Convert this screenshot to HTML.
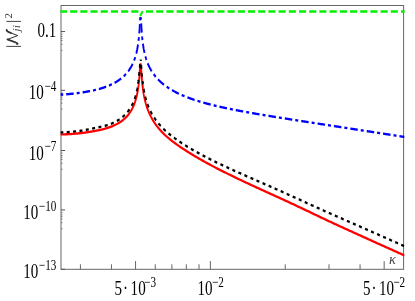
<!DOCTYPE html>
<html><head><meta charset="utf-8"><style>
html,body{margin:0;padding:0;background:#fff;}
svg{display:block;font-family:"Liberation Serif",serif;will-change:transform;}
</style></head><body>
<svg width="415" height="301" viewBox="0 0 415 301">
<defs><clipPath id="cr"><rect x="50" y="50.8" width="360" height="260"/></clipPath><clipPath id="ck"><rect x="50" y="47.7" width="360" height="260"/></clipPath><clipPath id="cb"><rect x="50" y="13.9" width="360" height="260"/></clipPath><clipPath id="c"><rect x="60.5" y="5.5" width="344.1" height="263.8"/></clipPath></defs>
<rect width="415" height="301" fill="#fff"/>
<rect x="61.0" y="5.5" width="342.6" height="263.8" fill="none" stroke="#666" stroke-width="1"/>
<line x1="80.41" y1="269.3" x2="80.41" y2="264.3" stroke="#666" stroke-width="1"/>
<line x1="111.47" y1="269.3" x2="111.47" y2="264.3" stroke="#666" stroke-width="1"/>
<line x1="135.56" y1="269.3" x2="135.56" y2="261.1" stroke="#666" stroke-width="1"/>
<line x1="155.25" y1="269.3" x2="155.25" y2="264.3" stroke="#666" stroke-width="1"/>
<line x1="171.89" y1="269.3" x2="171.89" y2="264.3" stroke="#666" stroke-width="1"/>
<line x1="186.31" y1="269.3" x2="186.31" y2="264.3" stroke="#666" stroke-width="1"/>
<line x1="199.02" y1="269.3" x2="199.02" y2="264.3" stroke="#666" stroke-width="1"/>
<line x1="210.40" y1="269.3" x2="210.40" y2="261.1" stroke="#666" stroke-width="1"/>
<line x1="285.24" y1="269.3" x2="285.24" y2="264.3" stroke="#666" stroke-width="1"/>
<line x1="329.01" y1="269.3" x2="329.01" y2="264.3" stroke="#666" stroke-width="1"/>
<line x1="360.07" y1="269.3" x2="360.07" y2="264.3" stroke="#666" stroke-width="1"/>
<line x1="384.16" y1="269.3" x2="384.16" y2="261.1" stroke="#666" stroke-width="1"/>
<line x1="61.0" y1="31.55" x2="65.1" y2="31.55" stroke="#555" stroke-width="1"/>
<line x1="61.0" y1="34.05" x2="62.5" y2="34.05" stroke="#666" stroke-width="0.8"/>
<line x1="61.0" y1="36.45" x2="62.5" y2="36.45" stroke="#666" stroke-width="0.8"/>
<line x1="61.0" y1="38.35" x2="62.5" y2="38.35" stroke="#666" stroke-width="0.8"/>
<line x1="61.0" y1="40.55" x2="62.5" y2="40.55" stroke="#666" stroke-width="0.8"/>
<line x1="61.0" y1="44.35" x2="62.5" y2="44.35" stroke="#666" stroke-width="0.8"/>
<line x1="61.0" y1="50.35" x2="62.5" y2="50.35" stroke="#666" stroke-width="0.8"/>
<line x1="61.0" y1="90.35" x2="65.1" y2="90.35" stroke="#555" stroke-width="1"/>
<line x1="61.0" y1="92.85" x2="62.5" y2="92.85" stroke="#666" stroke-width="0.8"/>
<line x1="61.0" y1="95.25" x2="62.5" y2="95.25" stroke="#666" stroke-width="0.8"/>
<line x1="61.0" y1="97.15" x2="62.5" y2="97.15" stroke="#666" stroke-width="0.8"/>
<line x1="61.0" y1="99.35" x2="62.5" y2="99.35" stroke="#666" stroke-width="0.8"/>
<line x1="61.0" y1="103.15" x2="62.5" y2="103.15" stroke="#666" stroke-width="0.8"/>
<line x1="61.0" y1="109.15" x2="62.5" y2="109.15" stroke="#666" stroke-width="0.8"/>
<line x1="61.0" y1="150.50" x2="65.1" y2="150.50" stroke="#555" stroke-width="1"/>
<line x1="61.0" y1="153.00" x2="62.5" y2="153.00" stroke="#666" stroke-width="0.8"/>
<line x1="61.0" y1="155.40" x2="62.5" y2="155.40" stroke="#666" stroke-width="0.8"/>
<line x1="61.0" y1="157.30" x2="62.5" y2="157.30" stroke="#666" stroke-width="0.8"/>
<line x1="61.0" y1="159.50" x2="62.5" y2="159.50" stroke="#666" stroke-width="0.8"/>
<line x1="61.0" y1="163.30" x2="62.5" y2="163.30" stroke="#666" stroke-width="0.8"/>
<line x1="61.0" y1="169.30" x2="62.5" y2="169.30" stroke="#666" stroke-width="0.8"/>
<line x1="61.0" y1="209.90" x2="65.1" y2="209.90" stroke="#555" stroke-width="1"/>
<line x1="61.0" y1="212.40" x2="62.5" y2="212.40" stroke="#666" stroke-width="0.8"/>
<line x1="61.0" y1="214.80" x2="62.5" y2="214.80" stroke="#666" stroke-width="0.8"/>
<line x1="61.0" y1="216.70" x2="62.5" y2="216.70" stroke="#666" stroke-width="0.8"/>
<line x1="61.0" y1="218.90" x2="62.5" y2="218.90" stroke="#666" stroke-width="0.8"/>
<line x1="61.0" y1="222.70" x2="62.5" y2="222.70" stroke="#666" stroke-width="0.8"/>
<line x1="61.0" y1="228.70" x2="62.5" y2="228.70" stroke="#666" stroke-width="0.8"/>
<line x1="61.0" y1="269.30" x2="65.1" y2="269.30" stroke="#555" stroke-width="1"/>
<g clip-path="url(#c)"><g transform="scale(1,1.247)" fill="none" stroke-width="1.9">
<g clip-path="url(#cr)"><path d="M60.30 107.79 L60.79 107.79 L61.28 107.79 L61.78 107.79 L62.27 107.78 L62.76 107.77 L63.25 107.76 L63.75 107.75 L64.24 107.74 L64.73 107.73 L65.22 107.72 L65.72 107.70 L66.21 107.68 L66.70 107.67 L67.19 107.65 L67.69 107.63 L68.18 107.61 L68.67 107.58 L69.16 107.56 L69.66 107.53 L70.15 107.51 L70.64 107.48 L71.13 107.45 L71.63 107.43 L72.12 107.40 L72.61 107.37 L73.10 107.33 L73.60 107.30 L74.09 107.27 L74.58 107.23 L75.07 107.20 L75.56 107.17 L76.06 107.13 L76.55 107.09 L77.04 107.06 L77.53 107.02 L78.03 106.98 L78.52 106.94 L79.01 106.90 L79.50 106.86 L80.00 106.82 L80.49 106.78 L80.98 106.74 L81.47 106.69 L81.97 106.65 L82.46 106.60 L82.95 106.55 L83.44 106.50 L83.94 106.45 L84.43 106.40 L84.92 106.34 L85.41 106.29 L85.91 106.23 L86.40 106.17 L86.89 106.11 L87.38 106.05 L87.88 105.99 L88.37 105.93 L88.86 105.87 L89.35 105.80 L89.85 105.74 L90.34 105.67 L90.83 105.61 L91.32 105.54 L91.81 105.47 L92.31 105.40 L92.80 105.33 L93.29 105.26 L93.78 105.19 L94.28 105.11 L94.77 105.04 L95.26 104.96 L95.75 104.89 L96.25 104.81 L96.74 104.74 L97.23 104.66 L97.72 104.58 L98.22 104.50 L98.71 104.42 L99.20 104.34 L99.69 104.25 L100.19 104.16 L100.68 104.08 L101.17 103.98 L101.66 103.89 L102.16 103.79 L102.65 103.70 L103.14 103.60 L103.63 103.49 L104.13 103.39 L104.62 103.28 L105.11 103.17 L105.60 103.05 L106.09 102.94 L106.59 102.82 L107.08 102.69 L107.57 102.57 L108.06 102.44 L108.56 102.31 L109.05 102.17 L109.54 102.03 L110.03 101.89 L110.53 101.74 L111.02 101.59 L111.51 101.44 L112.00 101.28 L112.50 101.12 L112.99 100.95 L113.48 100.78 L113.97 100.60 L114.47 100.42 L114.96 100.23 L115.45 100.04 L115.94 99.84 L116.44 99.64 L116.93 99.43 L117.42 99.22 L117.91 98.99 L118.41 98.77 L118.90 98.53 L119.39 98.29 L119.88 98.03 L120.37 97.78 L120.87 97.51 L121.36 97.23 L121.85 96.94 L122.34 96.65 L122.84 96.34 L123.33 96.02 L123.82 95.69 L124.31 95.35 L124.81 94.99 L125.30 94.62 L125.79 94.24 L126.28 93.84 L126.78 93.42 L127.27 92.98 L127.76 92.53 L128.25 92.05 L128.75 91.55 L129.24 91.03 L129.73 90.47 L130.22 89.89 L130.72 89.28 L131.21 88.62 L131.70 87.93 L132.19 87.20 L132.69 86.41 L133.18 85.57 L133.67 84.67 L134.16 83.69 L134.66 82.63 L135.15 81.47 L135.64 80.20 L136.00 79.18 L136.02 79.11 L136.05 79.04 L136.07 78.98 L136.09 78.91 L136.11 78.84 L136.13 78.78 L136.14 78.77 L136.16 78.70 L136.18 78.63 L136.20 78.56 L136.23 78.49 L136.25 78.42 L136.27 78.35 L136.29 78.28 L136.32 78.21 L136.34 78.14 L136.36 78.07 L136.38 77.99 L136.41 77.92 L136.43 77.85 L136.45 77.77 L136.47 77.70 L136.50 77.63 L136.52 77.55 L136.54 77.48 L136.56 77.40 L136.59 77.32 L136.61 77.25 L136.62 77.19 L136.63 77.17 L136.65 77.09 L136.68 77.01 L136.70 76.93 L136.72 76.86 L136.74 76.78 L136.77 76.70 L136.79 76.62 L136.81 76.53 L136.83 76.45 L136.86 76.37 L136.88 76.29 L136.90 76.21 L136.92 76.12 L136.95 76.04 L136.97 75.95 L136.99 75.87 L137.02 75.78 L137.04 75.70 L137.06 75.61 L137.08 75.52 L137.11 75.44 L137.12 75.39 L137.13 75.35 L137.15 75.26 L137.17 75.17 L137.20 75.08 L137.22 74.99 L137.24 74.90 L137.26 74.80 L137.29 74.71 L137.31 74.62 L137.33 74.53 L137.35 74.43 L137.38 74.34 L137.40 74.24 L137.42 74.14 L137.44 74.05 L137.47 73.95 L137.49 73.85 L137.51 73.75 L137.53 73.65 L137.56 73.55 L137.58 73.45 L137.60 73.35 L137.61 73.31 L137.62 73.24 L137.65 73.14 L137.67 73.04 L137.69 72.93 L137.71 72.82 L137.74 72.72 L137.76 72.61 L137.78 72.50 L137.80 72.39 L137.83 72.28 L137.85 72.17 L137.87 72.06 L137.89 71.95 L137.92 71.83 L137.94 71.72 L137.96 71.60 L137.98 71.48 L138.01 71.37 L138.03 71.25 L138.05 71.13 L138.08 71.01 L138.10 70.89 L138.10 70.86 L138.12 70.76 L138.14 70.64 L138.17 70.52 L138.19 70.39 L138.21 70.26 L138.23 70.14 L138.26 70.01 L138.28 69.88 L138.30 69.74 L138.32 69.61 L138.35 69.48 L138.37 69.34 L138.39 69.21 L138.41 69.07 L138.44 68.93 L138.46 68.79 L138.48 68.65 L138.50 68.50 L138.53 68.36 L138.55 68.21 L138.57 68.07 L138.59 67.92 L138.59 67.92 L138.62 67.77 L138.64 67.62 L138.66 67.46 L138.68 67.31 L138.71 67.15 L138.73 66.99 L138.75 66.83 L138.77 66.67 L138.80 66.51 L138.82 66.34 L138.84 66.18 L138.86 66.01 L138.89 65.84 L138.91 65.67 L138.93 65.49 L138.95 65.32 L138.98 65.14 L139.00 64.96 L139.02 64.78 L139.05 64.59 L139.07 64.41 L139.09 64.25 L139.09 64.22 L139.11 64.03 L139.14 63.83 L139.16 63.64 L139.18 63.44 L139.20 63.24 L139.23 63.04 L139.25 62.84 L139.27 62.63 L139.29 62.42 L139.32 62.21 L139.34 61.99 L139.36 61.78 L139.38 61.56 L139.41 61.33 L139.43 61.11 L139.45 60.88 L139.47 60.65 L139.50 60.42 L139.52 60.18 L139.54 59.94 L139.56 59.70 L139.58 59.53 L139.59 59.46 L139.61 59.21 L139.63 58.96 L139.65 58.71 L139.68 58.45 L139.70 58.19 L139.72 57.93 L139.74 57.67 L139.77 57.40 L139.79 57.14 L139.81 56.87 L139.83 56.59 L139.86 56.32 L139.88 56.04 L139.90 55.77 L139.92 55.49 L139.95 55.21 L139.97 54.93 L139.99 54.65 L140.02 54.37 L140.04 54.09 L140.06 53.81 L140.07 53.67 L140.08 53.54 L140.11 53.27 L140.13 53.00 L140.15 52.73 L140.17 52.47 L140.20 52.22 L140.22 51.97 L140.24 51.74 L140.26 51.51 L140.29 51.29 L140.31 51.09 L140.33 50.89 L140.35 50.72 L140.38 50.56 L140.40 50.41 L140.42 50.28 L140.44 50.18 L140.47 50.09 L140.49 50.02 L140.51 49.98 L140.53 49.95 L140.56 49.95 L140.56 49.96 L140.58 49.98 L140.60 50.02 L140.62 50.08 L140.65 50.17 L140.67 50.28 L140.69 50.40 L140.71 50.55 L140.74 50.71 L140.76 50.89 L140.78 51.09 L140.80 51.29 L140.83 51.51 L140.85 51.75 L140.87 51.99 L140.89 52.24 L140.92 52.50 L140.94 52.76 L140.96 53.03 L140.98 53.31 L141.01 53.59 L141.03 53.87 L141.05 54.15 L141.06 54.20 L141.08 54.44 L141.10 54.73 L141.12 55.01 L141.14 55.30 L141.17 55.59 L141.19 55.88 L141.21 56.16 L141.23 56.45 L141.26 56.73 L141.28 57.01 L141.30 57.29 L141.32 57.57 L141.35 57.84 L141.37 58.12 L141.39 58.39 L141.41 58.65 L141.44 58.92 L141.46 59.18 L141.48 59.44 L141.50 59.70 L141.53 59.95 L141.55 60.20 L141.55 60.20 L141.57 60.45 L141.59 60.69 L141.62 60.94 L141.64 61.18 L141.66 61.41 L141.68 61.65 L141.71 61.88 L141.73 62.11 L141.75 62.33 L141.77 62.56 L141.80 62.78 L141.82 63.00 L141.84 63.21 L141.86 63.43 L141.89 63.64 L141.91 63.85 L141.93 64.06 L141.95 64.26 L141.98 64.46 L142.00 64.66 L142.02 64.86 L142.04 65.02 L142.05 65.05 L142.07 65.25 L142.09 65.44 L142.11 65.63 L142.14 65.81 L142.16 66.00 L142.18 66.18 L142.20 66.36 L142.23 66.54 L142.25 66.72 L142.27 66.90 L142.29 67.07 L142.32 67.24 L142.34 67.41 L142.36 67.58 L142.38 67.75 L142.41 67.91 L142.43 68.08 L142.45 68.24 L142.47 68.40 L142.50 68.56 L142.52 68.72 L142.53 68.82 L142.54 68.87 L142.56 69.03 L142.59 69.18 L142.61 69.33 L142.63 69.48 L142.65 69.63 L142.68 69.78 L142.70 69.92 L142.72 70.07 L142.74 70.21 L142.77 70.36 L142.79 70.50 L142.81 70.64 L142.83 70.78 L142.86 70.91 L142.88 71.05 L142.90 71.19 L142.92 71.32 L142.95 71.45 L142.97 71.59 L142.99 71.72 L143.02 71.85 L143.03 71.91 L143.04 71.98 L143.06 72.10 L143.08 72.23 L143.11 72.36 L143.13 72.48 L143.15 72.61 L143.17 72.73 L143.20 72.85 L143.22 72.97 L143.24 73.09 L143.26 73.21 L143.29 73.33 L143.31 73.45 L143.33 73.57 L143.35 73.68 L143.38 73.80 L143.40 73.91 L143.42 74.03 L143.44 74.14 L143.47 74.25 L143.49 74.36 L143.51 74.47 L143.52 74.51 L143.53 74.58 L143.56 74.69 L143.58 74.80 L143.60 74.91 L143.62 75.01 L143.65 75.12 L143.67 75.23 L143.69 75.33 L143.71 75.43 L143.74 75.54 L143.76 75.64 L143.78 75.74 L143.80 75.84 L143.83 75.95 L143.85 76.05 L143.87 76.14 L143.89 76.24 L143.92 76.34 L143.94 76.44 L143.96 76.54 L143.98 76.63 L144.01 76.73 L144.01 76.74 L144.03 76.83 L144.05 76.92 L144.08 77.01 L144.10 77.11 L144.12 77.20 L144.14 77.29 L144.17 77.39 L144.19 77.48 L144.21 77.57 L144.23 77.66 L144.26 77.75 L144.28 77.84 L144.30 77.93 L144.32 78.02 L144.35 78.11 L144.37 78.19 L144.39 78.28 L144.41 78.37 L144.44 78.45 L144.46 78.54 L144.48 78.63 L144.50 78.71 L144.50 78.71 L144.53 78.79 L144.55 78.88 L144.57 78.96 L144.59 79.05 L144.62 79.13 L144.64 79.21 L144.66 79.29 L144.68 79.37 L144.71 79.46 L144.73 79.54 L144.75 79.62 L144.77 79.70 L144.80 79.78 L144.82 79.85 L144.84 79.93 L144.86 80.01 L144.89 80.09 L144.91 80.17 L144.93 80.24 L144.95 80.32 L144.98 80.40 L145.00 80.46 L145.00 80.47 L145.49 82.04 L145.98 83.48 L146.47 84.81 L146.97 86.04 L147.46 87.18 L147.95 88.25 L148.44 89.26 L148.94 90.21 L149.43 91.11 L149.92 91.97 L150.41 92.79 L150.90 93.57 L151.40 94.32 L151.89 95.04 L152.38 95.73 L152.87 96.40 L153.37 97.04 L153.86 97.66 L154.35 98.27 L154.84 98.85 L155.34 99.42 L155.83 99.97 L156.32 100.51 L156.81 101.04 L157.31 101.55 L157.80 102.05 L158.29 102.53 L158.78 103.01 L159.28 103.48 L159.77 103.93 L160.26 104.38 L160.75 104.82 L161.25 105.25 L161.74 105.67 L162.23 106.08 L162.72 106.49 L163.22 106.89 L163.71 107.28 L164.20 107.66 L164.69 108.04 L165.18 108.41 L165.68 108.77 L166.17 109.13 L166.66 109.49 L167.15 109.84 L167.65 110.18 L168.14 110.52 L168.63 110.85 L169.12 111.18 L169.62 111.51 L170.11 111.83 L170.60 112.15 L171.09 112.46 L171.59 112.77 L172.08 113.08 L172.57 113.39 L173.06 113.69 L173.56 113.98 L174.05 114.28 L174.54 114.57 L175.03 114.86 L175.53 115.15 L176.02 115.43 L176.51 115.72 L177.00 116.00 L177.50 116.27 L177.99 116.55 L178.48 116.82 L178.97 117.10 L179.47 117.37 L179.96 117.63 L180.45 117.90 L180.94 118.17 L181.43 118.43 L181.93 118.69 L182.42 118.96 L182.91 119.22 L183.40 119.48 L183.90 119.73 L184.39 119.99 L184.88 120.25 L185.37 120.50 L185.87 120.76 L186.36 121.01 L186.85 121.26 L187.34 121.51 L187.84 121.76 L188.33 122.01 L188.82 122.26 L189.31 122.51 L189.81 122.75 L190.30 123.00 L190.79 123.24 L191.28 123.48 L191.78 123.72 L192.27 123.96 L192.76 124.20 L193.25 124.44 L193.75 124.68 L194.24 124.91 L194.73 125.15 L195.22 125.38 L195.71 125.62 L196.21 125.85 L196.70 126.08 L197.19 126.31 L197.68 126.54 L198.18 126.77 L198.67 127.00 L199.16 127.23 L199.65 127.46 L200.15 127.68 L200.64 127.91 L201.13 128.14 L201.62 128.36 L202.12 128.58 L202.61 128.81 L203.10 129.03 L203.59 129.25 L204.09 129.47 L204.58 129.69 L205.07 129.91 L205.56 130.13 L206.06 130.34 L206.55 130.56 L207.04 130.78 L207.53 130.99 L208.03 131.21 L208.52 131.42 L209.01 131.63 L209.50 131.85 L209.99 132.06 L210.49 132.27 L210.98 132.48 L211.47 132.69 L211.96 132.90 L212.46 133.11 L212.95 133.31 L213.44 133.52 L213.93 133.73 L214.43 133.93 L214.92 134.14 L215.41 134.34 L215.90 134.55 L216.40 134.75 L216.89 134.95 L217.38 135.16 L217.87 135.36 L218.37 135.56 L218.86 135.76 L219.35 135.96 L219.84 136.16 L220.34 136.37 L220.83 136.57 L221.32 136.77 L221.81 136.96 L222.31 137.16 L222.80 137.36 L223.29 137.56 L223.78 137.76 L224.28 137.96 L224.77 138.15 L225.26 138.35 L225.75 138.55 L226.24 138.74 L226.74 138.94 L227.23 139.14 L227.72 139.33 L228.21 139.53 L228.71 139.72 L229.20 139.92 L229.69 140.11 L230.18 140.31 L230.68 140.50 L231.17 140.69 L231.66 140.89 L232.15 141.08 L232.65 141.27 L233.14 141.46 L233.63 141.66 L234.12 141.85 L234.62 142.04 L235.11 142.23 L235.60 142.42 L236.09 142.61 L236.59 142.80 L237.08 142.99 L237.57 143.18 L238.06 143.37 L238.56 143.56 L239.05 143.75 L239.54 143.94 L240.03 144.13 L240.52 144.32 L241.02 144.50 L241.51 144.69 L242.00 144.88 L242.49 145.07 L242.99 145.25 L243.48 145.44 L243.97 145.63 L244.46 145.81 L244.96 146.00 L245.45 146.19 L245.94 146.37 L246.43 146.56 L246.93 146.74 L247.42 146.93 L247.91 147.11 L248.40 147.29 L248.90 147.48 L249.39 147.66 L249.88 147.85 L250.37 148.03 L250.87 148.21 L251.36 148.39 L251.85 148.58 L252.34 148.76 L252.84 148.94 L253.33 149.12 L253.82 149.31 L254.31 149.49 L254.81 149.67 L255.30 149.85 L255.79 150.03 L256.28 150.21 L256.77 150.39 L257.27 150.58 L257.76 150.76 L258.25 150.94 L258.74 151.12 L259.24 151.30 L259.73 151.48 L260.22 151.66 L260.71 151.84 L261.21 152.02 L261.70 152.20 L262.19 152.38 L262.68 152.56 L263.18 152.74 L263.67 152.92 L264.16 153.10 L264.65 153.28 L265.15 153.46 L265.64 153.64 L266.13 153.82 L266.62 154.00 L267.12 154.18 L267.61 154.36 L268.10 154.54 L268.59 154.72 L269.09 154.89 L269.58 155.07 L270.07 155.25 L270.56 155.43 L271.05 155.61 L271.55 155.79 L272.04 155.97 L272.53 156.15 L273.02 156.33 L273.52 156.51 L274.01 156.69 L274.50 156.87 L274.99 157.05 L275.49 157.23 L275.98 157.41 L276.47 157.59 L276.96 157.77 L277.46 157.95 L277.95 158.13 L278.44 158.31 L278.93 158.49 L279.43 158.67 L279.92 158.85 L280.41 159.03 L280.90 159.21 L281.40 159.39 L281.89 159.58 L282.38 159.76 L282.87 159.94 L283.37 160.12 L283.86 160.30 L284.35 160.48 L284.84 160.66 L285.33 160.84 L285.83 161.03 L286.32 161.21 L286.81 161.39 L287.30 161.57 L287.80 161.76 L288.29 161.94 L288.78 162.12 L289.27 162.31 L289.77 162.49 L290.26 162.67 L290.75 162.86 L291.24 163.04 L291.74 163.23 L292.23 163.41 L292.72 163.60 L293.21 163.78 L293.71 163.97 L294.20 164.15 L294.69 164.34 L295.18 164.52 L295.68 164.71 L296.17 164.90 L296.66 165.08 L297.15 165.27 L297.65 165.45 L298.14 165.64 L298.63 165.83 L299.12 166.01 L299.62 166.20 L300.11 166.39 L300.60 166.58 L301.09 166.76 L301.58 166.95 L302.08 167.14 L302.57 167.33 L303.06 167.51 L303.55 167.70 L304.05 167.89 L304.54 168.08 L305.03 168.26 L305.52 168.45 L306.02 168.64 L306.51 168.83 L307.00 169.02 L307.49 169.20 L307.99 169.39 L308.48 169.58 L308.97 169.77 L309.46 169.96 L309.96 170.15 L310.45 170.33 L310.94 170.52 L311.43 170.71 L311.93 170.90 L312.42 171.09 L312.91 171.28 L313.40 171.46 L313.90 171.65 L314.39 171.84 L314.88 172.03 L315.37 172.22 L315.86 172.41 L316.36 172.59 L316.85 172.78 L317.34 172.97 L317.83 173.16 L318.33 173.35 L318.82 173.53 L319.31 173.72 L319.80 173.91 L320.30 174.10 L320.79 174.28 L321.28 174.47 L321.77 174.66 L322.27 174.85 L322.76 175.03 L323.25 175.22 L323.74 175.41 L324.24 175.59 L324.73 175.78 L325.22 175.97 L325.71 176.15 L326.21 176.34 L326.70 176.52 L327.19 176.71 L327.68 176.90 L328.18 177.08 L328.67 177.27 L329.16 177.45 L329.65 177.64 L330.14 177.82 L330.64 178.00 L331.13 178.19 L331.62 178.37 L332.11 178.56 L332.61 178.74 L333.10 178.92 L333.59 179.11 L334.08 179.29 L334.58 179.47 L335.07 179.65 L335.56 179.84 L336.05 180.02 L336.55 180.20 L337.04 180.38 L337.53 180.56 L338.02 180.75 L338.52 180.93 L339.01 181.11 L339.50 181.29 L339.99 181.47 L340.49 181.65 L340.98 181.83 L341.47 182.01 L341.96 182.19 L342.46 182.38 L342.95 182.56 L343.44 182.74 L343.93 182.92 L344.43 183.10 L344.92 183.28 L345.41 183.46 L345.90 183.64 L346.39 183.82 L346.89 184.00 L347.38 184.17 L347.87 184.35 L348.36 184.53 L348.86 184.71 L349.35 184.89 L349.84 185.07 L350.33 185.25 L350.83 185.43 L351.32 185.61 L351.81 185.79 L352.30 185.97 L352.80 186.15 L353.29 186.33 L353.78 186.50 L354.27 186.68 L354.77 186.86 L355.26 187.04 L355.75 187.22 L356.24 187.40 L356.74 187.58 L357.23 187.76 L357.72 187.94 L358.21 188.12 L358.71 188.29 L359.20 188.47 L359.69 188.65 L360.18 188.83 L360.67 189.01 L361.17 189.19 L361.66 189.37 L362.15 189.55 L362.64 189.73 L363.14 189.91 L363.63 190.09 L364.12 190.27 L364.61 190.45 L365.11 190.62 L365.60 190.80 L366.09 190.98 L366.58 191.16 L367.08 191.34 L367.57 191.52 L368.06 191.70 L368.55 191.88 L369.05 192.06 L369.54 192.24 L370.03 192.42 L370.52 192.60 L371.02 192.78 L371.51 192.96 L372.00 193.14 L372.49 193.32 L372.99 193.50 L373.48 193.68 L373.97 193.86 L374.46 194.04 L374.95 194.22 L375.45 194.40 L375.94 194.58 L376.43 194.75 L376.92 194.93 L377.42 195.11 L377.91 195.29 L378.40 195.47 L378.89 195.64 L379.39 195.82 L379.88 196.00 L380.37 196.18 L380.86 196.35 L381.36 196.53 L381.85 196.71 L382.34 196.88 L382.83 197.06 L383.33 197.24 L383.82 197.42 L384.31 197.59 L384.80 197.77 L385.30 197.95 L385.79 198.12 L386.28 198.30 L386.77 198.48 L387.27 198.65 L387.76 198.83 L388.25 199.01 L388.74 199.18 L389.24 199.36 L389.73 199.53 L390.22 199.71 L390.71 199.89 L391.20 200.06 L391.70 200.24 L392.19 200.42 L392.68 200.60 L393.17 200.77 L393.67 200.95 L394.16 201.13 L394.65 201.30 L395.14 201.48 L395.64 201.66 L396.13 201.83 L396.62 202.01 L397.11 202.19 L397.61 202.37 L398.10 202.55 L398.59 202.72 L399.08 202.90 L399.58 203.08 L400.07 203.26 L400.56 203.44 L401.05 203.61 L401.55 203.79 L402.04 203.97 L402.53 204.15 L403.02 204.33 L403.52 204.51 L404.01 204.69 L404.50 204.87" stroke="#ff0000"/></g>
<g clip-path="url(#cb)"><path d="M60.30 75.82 L60.79 75.82 L61.28 75.81 L61.78 75.80 L62.27 75.78 L62.76 75.77 L63.25 75.75 L63.75 75.73 L64.24 75.71 L64.73 75.69 L65.22 75.66 L65.72 75.64 L66.21 75.61 L66.70 75.58 L67.19 75.55 L67.69 75.52 L68.18 75.48 L68.67 75.45 L69.16 75.41 L69.66 75.38 L70.15 75.34 L70.64 75.30 L71.13 75.26 L71.63 75.22 L72.12 75.18 L72.61 75.14 L73.10 75.09 L73.60 75.05 L74.09 75.01 L74.58 74.96 L75.07 74.92 L75.56 74.87 L76.06 74.83 L76.55 74.78 L77.04 74.73 L77.53 74.68 L78.03 74.62 L78.52 74.57 L79.01 74.51 L79.50 74.46 L80.00 74.40 L80.49 74.34 L80.98 74.28 L81.47 74.22 L81.97 74.15 L82.46 74.09 L82.95 74.02 L83.44 73.96 L83.94 73.89 L84.43 73.83 L84.92 73.76 L85.41 73.69 L85.91 73.62 L86.40 73.55 L86.89 73.48 L87.38 73.41 L87.88 73.34 L88.37 73.26 L88.86 73.19 L89.35 73.12 L89.85 73.05 L90.34 72.97 L90.83 72.90 L91.32 72.82 L91.81 72.74 L92.31 72.66 L92.80 72.58 L93.29 72.50 L93.78 72.41 L94.28 72.32 L94.77 72.23 L95.26 72.14 L95.75 72.05 L96.25 71.95 L96.74 71.85 L97.23 71.75 L97.72 71.65 L98.22 71.55 L98.71 71.44 L99.20 71.33 L99.69 71.22 L100.19 71.11 L100.68 70.99 L101.17 70.88 L101.66 70.75 L102.16 70.63 L102.65 70.51 L103.14 70.38 L103.63 70.25 L104.13 70.11 L104.62 69.97 L105.11 69.83 L105.60 69.69 L106.09 69.54 L106.59 69.40 L107.08 69.24 L107.57 69.09 L108.06 68.93 L108.56 68.76 L109.05 68.60 L109.54 68.43 L110.03 68.25 L110.53 68.07 L111.02 67.89 L111.51 67.70 L112.00 67.51 L112.50 67.32 L112.99 67.12 L113.48 66.91 L113.97 66.70 L114.47 66.49 L114.96 66.26 L115.45 66.04 L115.94 65.81 L116.44 65.57 L116.93 65.32 L117.42 65.07 L117.91 64.82 L118.41 64.55 L118.90 64.28 L119.39 64.00 L119.88 63.71 L120.37 63.42 L120.87 63.11 L121.36 62.80 L121.85 62.48 L122.34 62.15 L122.84 61.80 L123.33 61.45 L123.82 61.08 L124.31 60.70 L124.81 60.31 L125.30 59.90 L125.79 59.48 L126.28 59.04 L126.78 58.59 L127.27 58.12 L127.76 57.63 L128.25 57.11 L128.75 56.58 L129.24 56.02 L129.73 55.43 L130.22 54.81 L130.72 54.16 L131.21 53.48 L131.70 52.76 L132.19 51.99 L132.69 51.17 L133.18 50.30 L133.67 49.37 L134.16 48.36 L134.66 47.28 L135.15 46.09 L135.64 44.79 L136.00 43.75 L136.02 43.69 L136.05 43.62 L136.07 43.55 L136.09 43.48 L136.11 43.41 L136.13 43.35 L136.14 43.34 L136.16 43.27 L136.18 43.20 L136.20 43.13 L136.23 43.06 L136.25 42.99 L136.27 42.92 L136.29 42.85 L136.32 42.77 L136.34 42.70 L136.36 42.63 L136.38 42.55 L136.41 42.48 L136.43 42.41 L136.45 42.33 L136.47 42.26 L136.50 42.18 L136.52 42.10 L136.54 42.03 L136.56 41.95 L136.59 41.87 L136.61 41.80 L136.62 41.74 L136.63 41.72 L136.65 41.64 L136.68 41.56 L136.70 41.48 L136.72 41.40 L136.74 41.32 L136.77 41.24 L136.79 41.16 L136.81 41.07 L136.83 40.99 L136.86 40.91 L136.88 40.83 L136.90 40.74 L136.92 40.66 L136.95 40.57 L136.97 40.49 L136.99 40.40 L137.02 40.31 L137.04 40.23 L137.06 40.14 L137.08 40.05 L137.11 39.96 L137.12 39.91 L137.13 39.87 L137.15 39.78 L137.17 39.69 L137.20 39.60 L137.22 39.51 L137.24 39.41 L137.26 39.32 L137.29 39.23 L137.31 39.13 L137.33 39.04 L137.35 38.94 L137.38 38.85 L137.40 38.75 L137.42 38.65 L137.44 38.55 L137.47 38.45 L137.49 38.35 L137.51 38.25 L137.53 38.15 L137.56 38.05 L137.58 37.95 L137.60 37.84 L137.61 37.81 L137.62 37.74 L137.65 37.63 L137.67 37.53 L137.69 37.42 L137.71 37.31 L137.74 37.20 L137.76 37.10 L137.78 36.98 L137.80 36.87 L137.83 36.76 L137.85 36.65 L137.87 36.54 L137.89 36.42 L137.92 36.30 L137.94 36.19 L137.96 36.07 L137.98 35.95 L138.01 35.83 L138.03 35.71 L138.05 35.59 L138.08 35.47 L138.10 35.34 L138.10 35.32 L138.12 35.22 L138.14 35.09 L138.17 34.96 L138.19 34.84 L138.21 34.71 L138.23 34.58 L138.26 34.44 L138.28 34.31 L138.30 34.18 L138.32 34.04 L138.35 33.90 L138.37 33.77 L138.39 33.63 L138.41 33.48 L138.44 33.34 L138.46 33.20 L138.48 33.05 L138.50 32.90 L138.53 32.76 L138.55 32.61 L138.57 32.45 L138.59 32.30 L138.59 32.30 L138.62 32.15 L138.64 31.99 L138.66 31.83 L138.68 31.67 L138.71 31.51 L138.73 31.34 L138.75 31.18 L138.77 31.01 L138.80 30.84 L138.82 30.67 L138.84 30.50 L138.86 30.32 L138.89 30.14 L138.91 29.96 L138.93 29.78 L138.95 29.60 L138.98 29.41 L139.00 29.22 L139.02 29.03 L139.05 28.83 L139.07 28.63 L139.09 28.47 L139.09 28.44 L139.11 28.23 L139.14 28.03 L139.16 27.82 L139.18 27.61 L139.20 27.39 L139.23 27.18 L139.25 26.96 L139.27 26.73 L139.29 26.51 L139.32 26.28 L139.34 26.04 L139.36 25.80 L139.38 25.56 L139.41 25.32 L139.43 25.07 L139.45 24.82 L139.47 24.56 L139.50 24.30 L139.52 24.03 L139.54 23.76 L139.56 23.49 L139.58 23.30 L139.59 23.21 L139.61 22.92 L139.63 22.64 L139.65 22.34 L139.68 22.04 L139.70 21.74 L139.72 21.43 L139.74 21.11 L139.77 20.79 L139.79 20.46 L139.81 20.13 L139.83 19.79 L139.86 19.45 L139.88 19.10 L139.90 18.74 L139.92 18.38 L139.95 18.01 L139.97 17.63 L139.99 17.25 L140.02 16.86 L140.04 16.47 L140.06 16.07 L140.07 15.87 L140.08 15.67 L140.11 15.27 L140.13 14.86 L140.15 14.45 L140.17 14.03 L140.20 13.62 L140.22 13.21 L140.24 12.80 L140.26 12.40 L140.29 12.01 L140.31 11.63 L140.33 11.26 L140.35 10.92 L140.38 10.59 L140.40 10.29 L140.42 10.02 L140.44 9.78 L140.47 9.59 L140.49 9.43 L140.51 9.32 L140.53 9.26" stroke="#0000ff" stroke-dasharray="7.5 3 3 3" stroke-dashoffset="10.60"/><path d="M140.56 9.24 L140.56 9.25 L140.58 9.27 L140.60 9.36 L140.62 9.48 L140.65 9.66 L140.67 9.87 L140.69 10.12 L140.71 10.40 L140.74 10.71 L140.76 11.05 L140.78 11.41 L140.80 11.78 L140.83 12.17 L140.85 12.57 L140.87 12.97 L140.89 13.38 L140.92 13.80 L140.94 14.21 L140.96 14.63 L140.98 15.04 L141.01 15.45 L141.03 15.86 L141.05 16.26 L141.06 16.33 L141.08 16.66 L141.10 17.05 L141.12 17.44 L141.14 17.82 L141.17 18.20 L141.19 18.57 L141.21 18.93 L141.23 19.29 L141.26 19.64 L141.28 19.99 L141.30 20.33 L141.32 20.66 L141.35 20.99 L141.37 21.31 L141.39 21.63 L141.41 21.94 L141.44 22.24 L141.46 22.54 L141.48 22.84 L141.50 23.13 L141.53 23.41 L141.55 23.69 L141.55 23.69 L141.57 23.97 L141.59 24.24 L141.62 24.51 L141.64 24.77 L141.66 25.03 L141.68 25.28 L141.71 25.53 L141.73 25.78 L141.75 26.02 L141.77 26.26 L141.80 26.49 L141.82 26.73 L141.84 26.95 L141.86 27.18 L141.89 27.40 L141.91 27.62 L141.93 27.83 L141.95 28.05 L141.98 28.26 L142.00 28.46 L142.02 28.67 L142.04 28.84 L142.05 28.87 L142.07 29.07 L142.09 29.26 L142.11 29.46 L142.14 29.65 L142.16 29.84 L142.18 30.02 L142.20 30.21 L142.23 30.39 L142.25 30.57 L142.27 30.75 L142.29 30.92 L142.32 31.10 L142.34 31.27 L142.36 31.44 L142.38 31.61 L142.41 31.77 L142.43 31.94 L142.45 32.10 L142.47 32.26 L142.50 32.42 L142.52 32.57 L142.53 32.68 L142.54 32.73 L142.56 32.88 L142.59 33.04 L142.61 33.19 L142.63 33.34 L142.65 33.48 L142.68 33.63 L142.70 33.77 L142.72 33.92 L142.74 34.06 L142.77 34.20 L142.79 34.34 L142.81 34.48 L142.83 34.61 L142.86 34.75 L142.88 34.88 L142.90 35.02 L142.92 35.15 L142.95 35.28 L142.97 35.41 L142.99 35.54 L143.02 35.66 L143.03 35.73 L143.04 35.79 L143.06 35.91 L143.08 36.04 L143.11 36.16 L143.13 36.28 L143.15 36.40 L143.17 36.52 L143.20 36.64 L143.22 36.76 L143.24 36.88 L143.26 36.99 L143.29 37.11 L143.31 37.22 L143.33 37.34 L143.35 37.45 L143.38 37.56 L143.40 37.67 L143.42 37.78 L143.44 37.89 L143.47 38.00 L143.49 38.11 L143.51 38.21 L143.52 38.25 L143.53 38.32 L143.56 38.42 L143.58 38.53 L143.60 38.63 L143.62 38.74 L143.65 38.84 L143.67 38.94 L143.69 39.04 L143.71 39.14 L143.74 39.24 L143.76 39.34 L143.78 39.44 L143.80 39.53 L143.83 39.63 L143.85 39.73 L143.87 39.82 L143.89 39.92 L143.92 40.01 L143.94 40.11 L143.96 40.20 L143.98 40.29 L144.01 40.38 L144.01 40.40 L144.03 40.47 L144.05 40.56 L144.08 40.65 L144.10 40.74 L144.12 40.83 L144.14 40.92 L144.17 41.01 L144.19 41.10 L144.21 41.18 L144.23 41.27 L144.26 41.36 L144.28 41.44 L144.30 41.53 L144.32 41.61 L144.35 41.70 L144.37 41.78 L144.39 41.86 L144.41 41.94 L144.44 42.03 L144.46 42.11 L144.48 42.19 L144.50 42.27 L144.50 42.27 L144.53 42.35 L144.55 42.43 L144.57 42.51 L144.59 42.59 L144.62 42.67 L144.64 42.74 L144.66 42.82 L144.68 42.90 L144.71 42.98 L144.73 43.05 L144.75 43.13 L144.77 43.20 L144.80 43.28 L144.82 43.35 L144.84 43.43 L144.86 43.50 L144.89 43.58 L144.91 43.65 L144.93 43.72 L144.95 43.80 L144.98 43.87 L145.00 43.93 L145.00 43.94 L145.49 45.42 L145.98 46.77 L146.47 48.00 L146.97 49.14 L147.46 50.20 L147.95 51.19 L148.44 52.11 L148.94 52.98 L149.43 53.80 L149.92 54.58 L150.41 55.32 L150.90 56.02 L151.40 56.69 L151.89 57.34 L152.38 57.95 L152.87 58.54 L153.37 59.11 L153.86 59.66 L154.35 60.19 L154.84 60.70 L155.34 61.19 L155.83 61.67 L156.32 62.13 L156.81 62.58 L157.31 63.02 L157.80 63.44 L158.29 63.85 L158.78 64.25 L159.28 64.64 L159.77 65.02 L160.26 65.39 L160.75 65.75 L161.25 66.11 L161.74 66.45 L162.23 66.79 L162.72 67.12 L163.22 67.44 L163.71 67.76 L164.20 68.06 L164.69 68.37 L165.18 68.66 L165.68 68.95 L166.17 69.24 L166.66 69.52 L167.15 69.79 L167.65 70.06 L168.14 70.33 L168.63 70.59 L169.12 70.84 L169.62 71.09 L170.11 71.34 L170.60 71.58 L171.09 71.82 L171.59 72.05 L172.08 72.29 L172.57 72.51 L173.06 72.74 L173.56 72.96 L174.05 73.17 L174.54 73.39 L175.03 73.60 L175.53 73.81 L176.02 74.01 L176.51 74.21 L177.00 74.41 L177.50 74.61 L177.99 74.80 L178.48 74.99 L178.97 75.18 L179.47 75.37 L179.96 75.55 L180.45 75.73 L180.94 75.91 L181.43 76.09 L181.93 76.26 L182.42 76.43 L182.91 76.60 L183.40 76.77 L183.90 76.94 L184.39 77.10 L184.88 77.26 L185.37 77.43 L185.87 77.58 L186.36 77.74 L186.85 77.90 L187.34 78.05 L187.84 78.20 L188.33 78.35 L188.82 78.50 L189.31 78.65 L189.81 78.79 L190.30 78.94 L190.79 79.08 L191.28 79.22 L191.78 79.36 L192.27 79.50 L192.76 79.63 L193.25 79.77 L193.75 79.90 L194.24 80.03 L194.73 80.17 L195.22 80.30 L195.71 80.43 L196.21 80.55 L196.70 80.68 L197.19 80.81 L197.68 80.93 L198.18 81.05 L198.67 81.17 L199.16 81.30 L199.65 81.42 L200.15 81.53 L200.64 81.65 L201.13 81.77 L201.62 81.89 L202.12 82.00 L202.61 82.12 L203.10 82.23 L203.59 82.34 L204.09 82.45 L204.58 82.56 L205.07 82.67 L205.56 82.78 L206.06 82.89 L206.55 83.00 L207.04 83.10 L207.53 83.21 L208.03 83.31 L208.52 83.42 L209.01 83.52 L209.50 83.62 L209.99 83.72 L210.49 83.82 L210.98 83.92 L211.47 84.02 L211.96 84.12 L212.46 84.22 L212.95 84.32 L213.44 84.42 L213.93 84.51 L214.43 84.61 L214.92 84.70 L215.41 84.80 L215.90 84.89 L216.40 84.98 L216.89 85.08 L217.38 85.17 L217.87 85.26 L218.37 85.35 L218.86 85.44 L219.35 85.53 L219.84 85.62 L220.34 85.71 L220.83 85.80 L221.32 85.89 L221.81 85.98 L222.31 86.06 L222.80 86.15 L223.29 86.23 L223.78 86.32 L224.28 86.41 L224.77 86.49 L225.26 86.57 L225.75 86.66 L226.24 86.74 L226.74 86.82 L227.23 86.91 L227.72 86.99 L228.21 87.07 L228.71 87.15 L229.20 87.23 L229.69 87.31 L230.18 87.39 L230.68 87.47 L231.17 87.55 L231.66 87.63 L232.15 87.71 L232.65 87.79 L233.14 87.87 L233.63 87.95 L234.12 88.02 L234.62 88.10 L235.11 88.18 L235.60 88.26 L236.09 88.33 L236.59 88.41 L237.08 88.48 L237.57 88.56 L238.06 88.63 L238.56 88.71 L239.05 88.78 L239.54 88.86 L240.03 88.93 L240.52 89.01 L241.02 89.08 L241.51 89.15 L242.00 89.23 L242.49 89.30 L242.99 89.37 L243.48 89.44 L243.97 89.52 L244.46 89.59 L244.96 89.66 L245.45 89.73 L245.94 89.80 L246.43 89.87 L246.93 89.94 L247.42 90.02 L247.91 90.09 L248.40 90.16 L248.90 90.23 L249.39 90.30 L249.88 90.37 L250.37 90.44 L250.87 90.50 L251.36 90.57 L251.85 90.64 L252.34 90.71 L252.84 90.78 L253.33 90.85 L253.82 90.92 L254.31 90.99 L254.81 91.05 L255.30 91.12 L255.79 91.19 L256.28 91.26 L256.77 91.32 L257.27 91.39 L257.76 91.46 L258.25 91.53 L258.74 91.59 L259.24 91.66 L259.73 91.73 L260.22 91.79 L260.71 91.86 L261.21 91.92 L261.70 91.99 L262.19 92.06 L262.68 92.12 L263.18 92.19 L263.67 92.25 L264.16 92.32 L264.65 92.39 L265.15 92.45 L265.64 92.52 L266.13 92.58 L266.62 92.65 L267.12 92.71 L267.61 92.78 L268.10 92.84 L268.59 92.90 L269.09 92.97 L269.58 93.03 L270.07 93.10 L270.56 93.16 L271.05 93.23 L271.55 93.29 L272.04 93.36 L272.53 93.42 L273.02 93.48 L273.52 93.55 L274.01 93.61 L274.50 93.67 L274.99 93.74 L275.49 93.80 L275.98 93.86 L276.47 93.93 L276.96 93.99 L277.46 94.05 L277.95 94.12 L278.44 94.18 L278.93 94.24 L279.43 94.31 L279.92 94.37 L280.41 94.43 L280.90 94.50 L281.40 94.56 L281.89 94.62 L282.38 94.68 L282.87 94.75 L283.37 94.81 L283.86 94.87 L284.35 94.93 L284.84 95.00 L285.33 95.06 L285.83 95.12 L286.32 95.18 L286.81 95.25 L287.30 95.31 L287.80 95.37 L288.29 95.43 L288.78 95.49 L289.27 95.56 L289.77 95.62 L290.26 95.68 L290.75 95.74 L291.24 95.80 L291.74 95.87 L292.23 95.93 L292.72 95.99 L293.21 96.05 L293.71 96.11 L294.20 96.18 L294.69 96.24 L295.18 96.30 L295.68 96.36 L296.17 96.42 L296.66 96.48 L297.15 96.54 L297.65 96.61 L298.14 96.67 L298.63 96.73 L299.12 96.79 L299.62 96.85 L300.11 96.91 L300.60 96.97 L301.09 97.04 L301.58 97.10 L302.08 97.16 L302.57 97.22 L303.06 97.28 L303.55 97.34 L304.05 97.40 L304.54 97.46 L305.03 97.53 L305.52 97.59 L306.02 97.65 L306.51 97.71 L307.00 97.77 L307.49 97.83 L307.99 97.89 L308.48 97.95 L308.97 98.01 L309.46 98.08 L309.96 98.14 L310.45 98.20 L310.94 98.26 L311.43 98.32 L311.93 98.38 L312.42 98.44 L312.91 98.50 L313.40 98.56 L313.90 98.62 L314.39 98.69 L314.88 98.75 L315.37 98.81 L315.86 98.87 L316.36 98.93 L316.85 98.99 L317.34 99.05 L317.83 99.11 L318.33 99.17 L318.82 99.23 L319.31 99.29 L319.80 99.35 L320.30 99.42 L320.79 99.48 L321.28 99.54 L321.77 99.60 L322.27 99.66 L322.76 99.72 L323.25 99.78 L323.74 99.84 L324.24 99.90 L324.73 99.96 L325.22 100.02 L325.71 100.08 L326.21 100.15 L326.70 100.21 L327.19 100.27 L327.68 100.33 L328.18 100.39 L328.67 100.45 L329.16 100.51 L329.65 100.57 L330.14 100.63 L330.64 100.69 L331.13 100.75 L331.62 100.81 L332.11 100.87 L332.61 100.93 L333.10 101.00 L333.59 101.06 L334.08 101.12 L334.58 101.18 L335.07 101.24 L335.56 101.30 L336.05 101.36 L336.55 101.42 L337.04 101.48 L337.53 101.54 L338.02 101.60 L338.52 101.66 L339.01 101.72 L339.50 101.78 L339.99 101.84 L340.49 101.91 L340.98 101.97 L341.47 102.03 L341.96 102.09 L342.46 102.15 L342.95 102.21 L343.44 102.27 L343.93 102.33 L344.43 102.39 L344.92 102.45 L345.41 102.51 L345.90 102.57 L346.39 102.63 L346.89 102.69 L347.38 102.76 L347.87 102.82 L348.36 102.88 L348.86 102.94 L349.35 103.00 L349.84 103.06 L350.33 103.12 L350.83 103.18 L351.32 103.24 L351.81 103.30 L352.30 103.36 L352.80 103.42 L353.29 103.48 L353.78 103.54 L354.27 103.61 L354.77 103.67 L355.26 103.73 L355.75 103.79 L356.24 103.85 L356.74 103.91 L357.23 103.97 L357.72 104.03 L358.21 104.09 L358.71 104.15 L359.20 104.21 L359.69 104.27 L360.18 104.33 L360.67 104.39 L361.17 104.46 L361.66 104.52 L362.15 104.58 L362.64 104.64 L363.14 104.70 L363.63 104.76 L364.12 104.82 L364.61 104.88 L365.11 104.94 L365.60 105.00 L366.09 105.06 L366.58 105.12 L367.08 105.18 L367.57 105.25 L368.06 105.31 L368.55 105.37 L369.05 105.43 L369.54 105.49 L370.03 105.55 L370.52 105.61 L371.02 105.67 L371.51 105.73 L372.00 105.79 L372.49 105.85 L372.99 105.91 L373.48 105.97 L373.97 106.04 L374.46 106.10 L374.95 106.16 L375.45 106.22 L375.94 106.28 L376.43 106.34 L376.92 106.40 L377.42 106.46 L377.91 106.52 L378.40 106.58 L378.89 106.64 L379.39 106.70 L379.88 106.77 L380.37 106.83 L380.86 106.89 L381.36 106.95 L381.85 107.01 L382.34 107.07 L382.83 107.13 L383.33 107.19 L383.82 107.25 L384.31 107.31 L384.80 107.37 L385.30 107.44 L385.79 107.50 L386.28 107.56 L386.77 107.62 L387.27 107.68 L387.76 107.74 L388.25 107.80 L388.74 107.86 L389.24 107.92 L389.73 107.98 L390.22 108.04 L390.71 108.11 L391.20 108.17 L391.70 108.23 L392.19 108.29 L392.68 108.35 L393.17 108.41 L393.67 108.47 L394.16 108.53 L394.65 108.59 L395.14 108.65 L395.64 108.71 L396.13 108.78 L396.62 108.84 L397.11 108.90 L397.61 108.96 L398.10 109.02 L398.59 109.08 L399.08 109.14 L399.58 109.20 L400.07 109.26 L400.56 109.32 L401.05 109.38 L401.55 109.45 L402.04 109.51 L402.53 109.57 L403.02 109.63 L403.52 109.69 L404.01 109.75 L404.50 109.81" stroke="#0000ff" stroke-dasharray="7.5 3 3 3" stroke-dashoffset="7.01"/></g>
<g clip-path="url(#ck)"><path d="M60.30 106.10 L60.79 106.11 L61.28 106.11 L61.78 106.11 L62.27 106.11 L62.76 106.11 L63.25 106.10 L63.75 106.09 L64.24 106.08 L64.73 106.07 L65.22 106.06 L65.72 106.04 L66.21 106.02 L66.70 106.00 L67.19 105.98 L67.69 105.96 L68.18 105.93 L68.67 105.90 L69.16 105.87 L69.66 105.84 L70.15 105.81 L70.64 105.78 L71.13 105.74 L71.63 105.70 L72.12 105.67 L72.61 105.63 L73.10 105.59 L73.60 105.55 L74.09 105.50 L74.58 105.46 L75.07 105.41 L75.56 105.37 L76.06 105.32 L76.55 105.28 L77.04 105.23 L77.53 105.18 L78.03 105.13 L78.52 105.08 L79.01 105.03 L79.50 104.98 L80.00 104.93 L80.49 104.88 L80.98 104.82 L81.47 104.76 L81.97 104.70 L82.46 104.64 L82.95 104.58 L83.44 104.51 L83.94 104.44 L84.43 104.37 L84.92 104.30 L85.41 104.23 L85.91 104.15 L86.40 104.08 L86.89 104.00 L87.38 103.92 L87.88 103.84 L88.37 103.76 L88.86 103.68 L89.35 103.60 L89.85 103.51 L90.34 103.43 L90.83 103.35 L91.32 103.27 L91.81 103.18 L92.31 103.10 L92.80 103.01 L93.29 102.93 L93.78 102.85 L94.28 102.77 L94.77 102.68 L95.26 102.60 L95.75 102.52 L96.25 102.44 L96.74 102.36 L97.23 102.28 L97.72 102.20 L98.22 102.12 L98.71 102.04 L99.20 101.96 L99.69 101.87 L100.19 101.79 L100.68 101.70 L101.17 101.61 L101.66 101.52 L102.16 101.43 L102.65 101.34 L103.14 101.25 L103.63 101.15 L104.13 101.05 L104.62 100.95 L105.11 100.84 L105.60 100.73 L106.09 100.62 L106.59 100.51 L107.08 100.39 L107.57 100.27 L108.06 100.14 L108.56 100.01 L109.05 99.88 L109.54 99.74 L110.03 99.60 L110.53 99.45 L111.02 99.29 L111.51 99.14 L112.00 98.97 L112.50 98.80 L112.99 98.62 L113.48 98.44 L113.97 98.25 L114.47 98.06 L114.96 97.85 L115.45 97.64 L115.94 97.42 L116.44 97.20 L116.93 96.97 L117.42 96.74 L117.91 96.49 L118.41 96.24 L118.90 95.99 L119.39 95.72 L119.88 95.45 L120.37 95.17 L120.87 94.88 L121.36 94.58 L121.85 94.27 L122.34 93.95 L122.84 93.61 L123.33 93.27 L123.82 92.92 L124.31 92.55 L124.81 92.16 L125.30 91.77 L125.79 91.35 L126.28 90.93 L126.78 90.48 L127.27 90.01 L127.76 89.53 L128.25 89.02 L128.75 88.49 L129.24 87.93 L129.73 87.34 L130.22 86.72 L130.72 86.07 L131.21 85.38 L131.70 84.66 L132.19 83.88 L132.69 83.06 L133.18 82.17 L133.67 81.23 L134.16 80.20 L134.66 79.10 L135.15 77.89 L135.64 76.56 L136.00 75.50 L136.02 75.43 L136.05 75.36 L136.07 75.29 L136.09 75.22 L136.11 75.15 L136.13 75.09 L136.14 75.08 L136.16 75.01 L136.18 74.94 L136.20 74.87 L136.23 74.79 L136.25 74.72 L136.27 74.65 L136.29 74.57 L136.32 74.50 L136.34 74.43 L136.36 74.35 L136.38 74.28 L136.41 74.20 L136.43 74.12 L136.45 74.05 L136.47 73.97 L136.50 73.89 L136.52 73.82 L136.54 73.74 L136.56 73.66 L136.59 73.58 L136.61 73.50 L136.62 73.45 L136.63 73.42 L136.65 73.34 L136.68 73.26 L136.70 73.18 L136.72 73.10 L136.74 73.02 L136.77 72.93 L136.79 72.85 L136.81 72.77 L136.83 72.68 L136.86 72.60 L136.88 72.51 L136.90 72.43 L136.92 72.34 L136.95 72.26 L136.97 72.17 L136.99 72.08 L137.02 71.99 L137.04 71.91 L137.06 71.82 L137.08 71.73 L137.11 71.64 L137.12 71.59 L137.13 71.55 L137.15 71.45 L137.17 71.36 L137.20 71.27 L137.22 71.18 L137.24 71.08 L137.26 70.99 L137.29 70.89 L137.31 70.80 L137.33 70.70 L137.35 70.60 L137.38 70.51 L137.40 70.41 L137.42 70.31 L137.44 70.21 L137.47 70.11 L137.49 70.01 L137.51 69.91 L137.53 69.80 L137.56 69.70 L137.58 69.60 L137.60 69.49 L137.61 69.46 L137.62 69.39 L137.65 69.28 L137.67 69.17 L137.69 69.07 L137.71 68.96 L137.74 68.85 L137.76 68.74 L137.78 68.63 L137.80 68.52 L137.83 68.41 L137.85 68.29 L137.87 68.18 L137.89 68.06 L137.92 67.95 L137.94 67.83 L137.96 67.71 L137.98 67.59 L138.01 67.47 L138.03 67.35 L138.05 67.23 L138.08 67.11 L138.10 66.99 L138.10 66.96 L138.12 66.86 L138.14 66.74 L138.17 66.61 L138.19 66.48 L138.21 66.35 L138.23 66.23 L138.26 66.09 L138.28 65.96 L138.30 65.83 L138.32 65.70 L138.35 65.56 L138.37 65.42 L138.39 65.29 L138.41 65.15 L138.44 65.01 L138.46 64.87 L138.48 64.72 L138.50 64.58 L138.53 64.44 L138.55 64.29 L138.57 64.14 L138.59 63.99 L138.59 63.99 L138.62 63.84 L138.64 63.69 L138.66 63.54 L138.68 63.38 L138.71 63.23 L138.73 63.07 L138.75 62.91 L138.77 62.75 L138.80 62.59 L138.82 62.42 L138.84 62.26 L138.86 62.09 L138.89 61.92 L138.91 61.75 L138.93 61.58 L138.95 61.40 L138.98 61.23 L139.00 61.05 L139.02 60.87 L139.05 60.69 L139.07 60.51 L139.09 60.35 L139.09 60.32 L139.11 60.14 L139.14 59.95 L139.16 59.76 L139.18 59.57 L139.20 59.37 L139.23 59.18 L139.25 58.98 L139.27 58.78 L139.29 58.58 L139.32 58.37 L139.34 58.17 L139.36 57.96 L139.38 57.75 L139.41 57.54 L139.43 57.32 L139.45 57.11 L139.47 56.89 L139.50 56.67 L139.52 56.45 L139.54 56.22 L139.56 56.00 L139.58 55.84 L139.59 55.77 L139.61 55.54 L139.63 55.31 L139.65 55.08 L139.68 54.84 L139.70 54.60 L139.72 54.37 L139.74 54.13 L139.77 53.89 L139.79 53.65 L139.81 53.40 L139.83 53.16 L139.86 52.92 L139.88 52.68 L139.90 52.43 L139.92 52.19 L139.95 51.95 L139.97 51.71 L139.99 51.47 L140.02 51.23 L140.04 50.99 L140.06 50.76 L140.07 50.64 L140.08 50.53 L140.11 50.30 L140.13 50.08 L140.15 49.86 L140.17 49.65 L140.20 49.45 L140.22 49.25 L140.24 49.06 L140.26 48.88 L140.29 48.71 L140.31 48.55 L140.33 48.40 L140.35 48.26 L140.38 48.13 L140.40 48.02 L140.42 47.92 L140.44 47.83 L140.47 47.76 L140.49 47.71 L140.51 47.67 L140.53 47.65" stroke="#000000" stroke-dasharray="3 3.4" stroke-dashoffset="0.00"/><path d="M140.56 47.64 L140.56 47.64 L140.58 47.65 L140.60 47.68 L140.62 47.72 L140.65 47.78 L140.67 47.85 L140.69 47.94 L140.71 48.04 L140.74 48.16 L140.76 48.29 L140.78 48.43 L140.80 48.58 L140.83 48.75 L140.85 48.93 L140.87 49.11 L140.89 49.31 L140.92 49.51 L140.94 49.72 L140.96 49.93 L140.98 50.16 L141.01 50.38 L141.03 50.61 L141.05 50.85 L141.06 50.89 L141.08 51.09 L141.10 51.33 L141.12 51.58 L141.14 51.82 L141.17 52.07 L141.19 52.32 L141.21 52.57 L141.23 52.82 L141.26 53.07 L141.28 53.32 L141.30 53.57 L141.32 53.82 L141.35 54.07 L141.37 54.31 L141.39 54.56 L141.41 54.80 L141.44 55.05 L141.46 55.29 L141.48 55.53 L141.50 55.77 L141.53 56.00 L141.55 56.24 L141.55 56.24 L141.57 56.47 L141.59 56.70 L141.62 56.93 L141.64 57.16 L141.66 57.39 L141.68 57.61 L141.71 57.83 L141.73 58.05 L141.75 58.27 L141.77 58.48 L141.80 58.70 L141.82 58.91 L141.84 59.12 L141.86 59.32 L141.89 59.53 L141.91 59.73 L141.93 59.93 L141.95 60.13 L141.98 60.33 L142.00 60.53 L142.02 60.72 L142.04 60.88 L142.05 60.91 L142.07 61.10 L142.09 61.29 L142.11 61.48 L142.14 61.66 L142.16 61.84 L142.18 62.02 L142.20 62.20 L142.23 62.38 L142.25 62.56 L142.27 62.73 L142.29 62.90 L142.32 63.07 L142.34 63.24 L142.36 63.41 L142.38 63.58 L142.41 63.74 L142.43 63.91 L142.45 64.07 L142.47 64.23 L142.50 64.39 L142.52 64.54 L142.53 64.65 L142.54 64.70 L142.56 64.86 L142.59 65.01 L142.61 65.16 L142.63 65.31 L142.65 65.46 L142.68 65.61 L142.70 65.76 L142.72 65.90 L142.74 66.05 L142.77 66.19 L142.79 66.33 L142.81 66.47 L142.83 66.61 L142.86 66.75 L142.88 66.89 L142.90 67.03 L142.92 67.16 L142.95 67.30 L142.97 67.43 L142.99 67.56 L143.02 67.69 L143.03 67.76 L143.04 67.82 L143.06 67.95 L143.08 68.08 L143.11 68.21 L143.13 68.34 L143.15 68.46 L143.17 68.59 L143.20 68.71 L143.22 68.83 L143.24 68.95 L143.26 69.08 L143.29 69.20 L143.31 69.32 L143.33 69.43 L143.35 69.55 L143.38 69.67 L143.40 69.78 L143.42 69.90 L143.44 70.01 L143.47 70.13 L143.49 70.24 L143.51 70.35 L143.52 70.39 L143.53 70.46 L143.56 70.57 L143.58 70.68 L143.60 70.79 L143.62 70.90 L143.65 71.01 L143.67 71.12 L143.69 71.22 L143.71 71.33 L143.74 71.43 L143.76 71.54 L143.78 71.64 L143.80 71.75 L143.83 71.85 L143.85 71.95 L143.87 72.05 L143.89 72.15 L143.92 72.25 L143.94 72.35 L143.96 72.45 L143.98 72.55 L144.01 72.65 L144.01 72.66 L144.03 72.74 L144.05 72.84 L144.08 72.94 L144.10 73.03 L144.12 73.13 L144.14 73.22 L144.17 73.31 L144.19 73.41 L144.21 73.50 L144.23 73.59 L144.26 73.68 L144.28 73.78 L144.30 73.87 L144.32 73.96 L144.35 74.05 L144.37 74.14 L144.39 74.22 L144.41 74.31 L144.44 74.40 L144.46 74.49 L144.48 74.57 L144.50 74.66 L144.50 74.66 L144.53 74.75 L144.55 74.83 L144.57 74.92 L144.59 75.00 L144.62 75.09 L144.64 75.17 L144.66 75.25 L144.68 75.34 L144.71 75.42 L144.73 75.50 L144.75 75.58 L144.77 75.67 L144.80 75.75 L144.82 75.83 L144.84 75.91 L144.86 75.99 L144.89 76.07 L144.91 76.15 L144.93 76.22 L144.95 76.30 L144.98 76.38 L145.00 76.44 L145.00 76.46 L145.49 78.05 L145.98 79.52 L146.47 80.87 L146.97 82.12 L147.46 83.29 L147.95 84.38 L148.44 85.40 L148.94 86.37 L149.43 87.28 L149.92 88.15 L150.41 88.98 L150.90 89.77 L151.40 90.53 L151.89 91.26 L152.38 91.96 L152.87 92.63 L153.37 93.28 L153.86 93.91 L154.35 94.51 L154.84 95.10 L155.34 95.67 L155.83 96.23 L156.32 96.77 L156.81 97.29 L157.31 97.80 L157.80 98.30 L158.29 98.79 L158.78 99.27 L159.28 99.73 L159.77 100.19 L160.26 100.63 L160.75 101.07 L161.25 101.50 L161.74 101.92 L162.23 102.33 L162.72 102.73 L163.22 103.12 L163.71 103.51 L164.20 103.89 L164.69 104.27 L165.18 104.63 L165.68 105.00 L166.17 105.35 L166.66 105.70 L167.15 106.05 L167.65 106.39 L168.14 106.73 L168.63 107.06 L169.12 107.38 L169.62 107.71 L170.11 108.03 L170.60 108.34 L171.09 108.65 L171.59 108.96 L172.08 109.26 L172.57 109.56 L173.06 109.86 L173.56 110.16 L174.05 110.45 L174.54 110.74 L175.03 111.03 L175.53 111.31 L176.02 111.59 L176.51 111.87 L177.00 112.15 L177.50 112.43 L177.99 112.70 L178.48 112.97 L178.97 113.24 L179.47 113.51 L179.96 113.78 L180.45 114.04 L180.94 114.31 L181.43 114.57 L181.93 114.83 L182.42 115.09 L182.91 115.34 L183.40 115.60 L183.90 115.85 L184.39 116.10 L184.88 116.35 L185.37 116.60 L185.87 116.85 L186.36 117.09 L186.85 117.34 L187.34 117.58 L187.84 117.82 L188.33 118.06 L188.82 118.30 L189.31 118.54 L189.81 118.77 L190.30 119.01 L190.79 119.24 L191.28 119.47 L191.78 119.71 L192.27 119.94 L192.76 120.17 L193.25 120.39 L193.75 120.62 L194.24 120.85 L194.73 121.07 L195.22 121.30 L195.71 121.52 L196.21 121.74 L196.70 121.96 L197.19 122.18 L197.68 122.40 L198.18 122.62 L198.67 122.84 L199.16 123.05 L199.65 123.27 L200.15 123.49 L200.64 123.70 L201.13 123.91 L201.62 124.13 L202.12 124.34 L202.61 124.55 L203.10 124.76 L203.59 124.97 L204.09 125.18 L204.58 125.38 L205.07 125.59 L205.56 125.80 L206.06 126.00 L206.55 126.21 L207.04 126.41 L207.53 126.62 L208.03 126.82 L208.52 127.02 L209.01 127.22 L209.50 127.42 L209.99 127.63 L210.49 127.82 L210.98 128.02 L211.47 128.22 L211.96 128.42 L212.46 128.62 L212.95 128.81 L213.44 129.01 L213.93 129.20 L214.43 129.40 L214.92 129.59 L215.41 129.79 L215.90 129.98 L216.40 130.17 L216.89 130.36 L217.38 130.55 L217.87 130.75 L218.37 130.94 L218.86 131.12 L219.35 131.31 L219.84 131.50 L220.34 131.69 L220.83 131.88 L221.32 132.06 L221.81 132.25 L222.31 132.44 L222.80 132.62 L223.29 132.81 L223.78 132.99 L224.28 133.18 L224.77 133.36 L225.26 133.54 L225.75 133.73 L226.24 133.91 L226.74 134.09 L227.23 134.27 L227.72 134.46 L228.21 134.64 L228.71 134.82 L229.20 135.00 L229.69 135.18 L230.18 135.36 L230.68 135.54 L231.17 135.72 L231.66 135.90 L232.15 136.08 L232.65 136.26 L233.14 136.44 L233.63 136.62 L234.12 136.79 L234.62 136.97 L235.11 137.15 L235.60 137.33 L236.09 137.50 L236.59 137.68 L237.08 137.86 L237.57 138.04 L238.06 138.21 L238.56 138.39 L239.05 138.56 L239.54 138.74 L240.03 138.92 L240.52 139.09 L241.02 139.27 L241.51 139.44 L242.00 139.62 L242.49 139.79 L242.99 139.97 L243.48 140.14 L243.97 140.32 L244.46 140.49 L244.96 140.67 L245.45 140.84 L245.94 141.02 L246.43 141.19 L246.93 141.36 L247.42 141.54 L247.91 141.71 L248.40 141.89 L248.90 142.06 L249.39 142.23 L249.88 142.41 L250.37 142.58 L250.87 142.75 L251.36 142.93 L251.85 143.10 L252.34 143.27 L252.84 143.44 L253.33 143.62 L253.82 143.79 L254.31 143.96 L254.81 144.14 L255.30 144.31 L255.79 144.48 L256.28 144.66 L256.77 144.83 L257.27 145.00 L257.76 145.17 L258.25 145.35 L258.74 145.52 L259.24 145.69 L259.73 145.86 L260.22 146.04 L260.71 146.21 L261.21 146.38 L261.70 146.56 L262.19 146.73 L262.68 146.90 L263.18 147.07 L263.67 147.25 L264.16 147.42 L264.65 147.59 L265.15 147.76 L265.64 147.94 L266.13 148.11 L266.62 148.28 L267.12 148.46 L267.61 148.63 L268.10 148.80 L268.59 148.98 L269.09 149.15 L269.58 149.32 L270.07 149.50 L270.56 149.67 L271.05 149.84 L271.55 150.02 L272.04 150.19 L272.53 150.37 L273.02 150.54 L273.52 150.71 L274.01 150.89 L274.50 151.06 L274.99 151.24 L275.49 151.42 L275.98 151.59 L276.47 151.77 L276.96 151.94 L277.46 152.12 L277.95 152.29 L278.44 152.47 L278.93 152.65 L279.43 152.82 L279.92 153.00 L280.41 153.18 L280.90 153.35 L281.40 153.53 L281.89 153.71 L282.38 153.89 L282.87 154.06 L283.37 154.24 L283.86 154.42 L284.35 154.60 L284.84 154.77 L285.33 154.95 L285.83 155.13 L286.32 155.31 L286.81 155.49 L287.30 155.67 L287.80 155.84 L288.29 156.02 L288.78 156.20 L289.27 156.38 L289.77 156.56 L290.26 156.74 L290.75 156.92 L291.24 157.10 L291.74 157.28 L292.23 157.46 L292.72 157.64 L293.21 157.81 L293.71 157.99 L294.20 158.17 L294.69 158.35 L295.18 158.53 L295.68 158.71 L296.17 158.89 L296.66 159.07 L297.15 159.25 L297.65 159.43 L298.14 159.61 L298.63 159.79 L299.12 159.97 L299.62 160.15 L300.11 160.33 L300.60 160.51 L301.09 160.69 L301.58 160.87 L302.08 161.05 L302.57 161.23 L303.06 161.41 L303.55 161.59 L304.05 161.77 L304.54 161.95 L305.03 162.13 L305.52 162.31 L306.02 162.49 L306.51 162.67 L307.00 162.84 L307.49 163.02 L307.99 163.20 L308.48 163.38 L308.97 163.56 L309.46 163.74 L309.96 163.92 L310.45 164.10 L310.94 164.28 L311.43 164.46 L311.93 164.64 L312.42 164.82 L312.91 164.99 L313.40 165.17 L313.90 165.35 L314.39 165.53 L314.88 165.71 L315.37 165.89 L315.86 166.06 L316.36 166.24 L316.85 166.42 L317.34 166.60 L317.83 166.78 L318.33 166.95 L318.82 167.13 L319.31 167.31 L319.80 167.49 L320.30 167.66 L320.79 167.84 L321.28 168.02 L321.77 168.19 L322.27 168.37 L322.76 168.54 L323.25 168.72 L323.74 168.90 L324.24 169.07 L324.73 169.25 L325.22 169.42 L325.71 169.60 L326.21 169.77 L326.70 169.95 L327.19 170.12 L327.68 170.30 L328.18 170.47 L328.67 170.65 L329.16 170.82 L329.65 170.99 L330.14 171.17 L330.64 171.34 L331.13 171.51 L331.62 171.69 L332.11 171.86 L332.61 172.03 L333.10 172.21 L333.59 172.38 L334.08 172.55 L334.58 172.73 L335.07 172.90 L335.56 173.07 L336.05 173.25 L336.55 173.42 L337.04 173.59 L337.53 173.77 L338.02 173.94 L338.52 174.11 L339.01 174.29 L339.50 174.46 L339.99 174.63 L340.49 174.81 L340.98 174.98 L341.47 175.16 L341.96 175.33 L342.46 175.50 L342.95 175.68 L343.44 175.85 L343.93 176.02 L344.43 176.20 L344.92 176.37 L345.41 176.54 L345.90 176.72 L346.39 176.89 L346.89 177.07 L347.38 177.24 L347.87 177.41 L348.36 177.59 L348.86 177.76 L349.35 177.93 L349.84 178.11 L350.33 178.28 L350.83 178.45 L351.32 178.63 L351.81 178.80 L352.30 178.98 L352.80 179.15 L353.29 179.32 L353.78 179.50 L354.27 179.67 L354.77 179.84 L355.26 180.02 L355.75 180.19 L356.24 180.37 L356.74 180.54 L357.23 180.71 L357.72 180.89 L358.21 181.06 L358.71 181.24 L359.20 181.41 L359.69 181.58 L360.18 181.76 L360.67 181.93 L361.17 182.10 L361.66 182.28 L362.15 182.45 L362.64 182.63 L363.14 182.80 L363.63 182.97 L364.12 183.15 L364.61 183.32 L365.11 183.50 L365.60 183.67 L366.09 183.84 L366.58 184.02 L367.08 184.19 L367.57 184.37 L368.06 184.54 L368.55 184.71 L369.05 184.89 L369.54 185.06 L370.03 185.24 L370.52 185.41 L371.02 185.58 L371.51 185.76 L372.00 185.93 L372.49 186.11 L372.99 186.28 L373.48 186.45 L373.97 186.63 L374.46 186.80 L374.95 186.98 L375.45 187.15 L375.94 187.33 L376.43 187.50 L376.92 187.67 L377.42 187.85 L377.91 188.02 L378.40 188.20 L378.89 188.37 L379.39 188.54 L379.88 188.72 L380.37 188.89 L380.86 189.07 L381.36 189.24 L381.85 189.42 L382.34 189.59 L382.83 189.76 L383.33 189.94 L383.82 190.11 L384.31 190.29 L384.80 190.46 L385.30 190.63 L385.79 190.81 L386.28 190.98 L386.77 191.16 L387.27 191.33 L387.76 191.51 L388.25 191.68 L388.74 191.85 L389.24 192.03 L389.73 192.20 L390.22 192.38 L390.71 192.55 L391.20 192.73 L391.70 192.90 L392.19 193.07 L392.68 193.25 L393.17 193.42 L393.67 193.60 L394.16 193.77 L394.65 193.95 L395.14 194.12 L395.64 194.29 L396.13 194.47 L396.62 194.64 L397.11 194.82 L397.61 194.99 L398.10 195.17 L398.59 195.34 L399.08 195.52 L399.58 195.69 L400.07 195.86 L400.56 196.04 L401.05 196.21 L401.55 196.39 L402.04 196.56 L402.53 196.74 L403.02 196.91 L403.52 197.08 L404.01 197.26 L404.50 197.43" stroke="#000000" stroke-dasharray="3 3.4" stroke-dashoffset="1.76"/></g>
<path d="M59.9 9.22 L138.4 9.22" stroke="#00f000" stroke-dasharray="7.1 3.1"/>
<path d="M146.0 9.22 L406 9.22" stroke="#00f000" stroke-dasharray="7.1 3.1"/>
<path d="M142.7 8.92 L140.1 12.99" stroke="#00f000"/>
</g></g>
<text transform="translate(37.49,37.0) scale(0.86,1.25)" font-size="17.5" fill="#000">0.1</text>
<text transform="translate(28.78,99.35) scale(0.86,1.25)" font-size="17.5" fill="#000">10</text><text transform="translate(44.43,91.14999999999999) scale(0.93,1.25)" font-size="12" fill="#000">−4</text>
<text transform="translate(28.78,159.5) scale(0.86,1.25)" font-size="17.5" fill="#000">10</text><text transform="translate(44.43,151.3) scale(0.93,1.25)" font-size="12" fill="#000">−7</text>
<text transform="translate(23.20,218.9) scale(0.86,1.25)" font-size="17.5" fill="#000">10</text><text transform="translate(38.85,210.70000000000002) scale(0.93,1.25)" font-size="12" fill="#000">−10</text>
<text transform="translate(23.20,278.3) scale(0.86,1.25)" font-size="17.5" fill="#000">10</text><text transform="translate(38.85,270.1) scale(0.93,1.25)" font-size="12" fill="#000">−13</text>
<text transform="translate(114.60,294.6) scale(0.86,1.25)" font-size="17.5" fill="#000">5<tspan dx="1.05">·</tspan><tspan dx="3.0">10</tspan></text><text transform="translate(144.12,287.40000000000003) scale(0.93,1.25)" font-size="12" fill="#000">−3</text>
<text transform="translate(197.49,294.6) scale(0.86,1.25)" font-size="17.5" fill="#000">10</text><text transform="translate(212.04,287.40000000000003) scale(0.93,1.25)" font-size="12" fill="#000">−2</text>
<text transform="translate(362.95,294.6) scale(0.86,1.25)" font-size="17.5" fill="#000">5<tspan dx="1.05">·</tspan><tspan dx="3.0">10</tspan></text><text transform="translate(393.17,287.40000000000003) scale(0.93,1.25)" font-size="12" fill="#000">−2</text>
<text transform="translate(388.9,264.3) scale(1.03,1.1)" font-size="14" font-style="italic" fill="#444">κ</text>
<g transform="translate(21.0,46.4) rotate(-90)" fill="#333" stroke="none"><path d="M0 -14.7 V0 M25 -14.7 V0" stroke="#444" stroke-width="1" fill="none"/><path d="M1.8 -4.2 Q2.6 -2.2 3.9 -5.2 L7.0 -13.6 L10.8 -3.2 L14.3 -12.2 Q15.2 -14.6 16.6 -14.4" stroke="#333" stroke-width="1.0" fill="none" stroke-linejoin="round" stroke-linecap="round"/><path d="M2.6 -3.3 Q3.3 -3.6 3.9 -5.2 L7.0 -13.6 M13.4 -10 L14.3 -12.2 Q15.2 -14.6 16.6 -14.4" stroke="#333" stroke-width="1.7" fill="none" stroke-linecap="round"/><text transform="translate(15.0,-1.4) scale(1.2,1)" font-size="9.6" font-style="italic" fill="#444">ji</text><text transform="translate(27.8,-9.2) scale(1.1,1)" font-size="9.8">2</text></g>
</svg>
</body></html>
